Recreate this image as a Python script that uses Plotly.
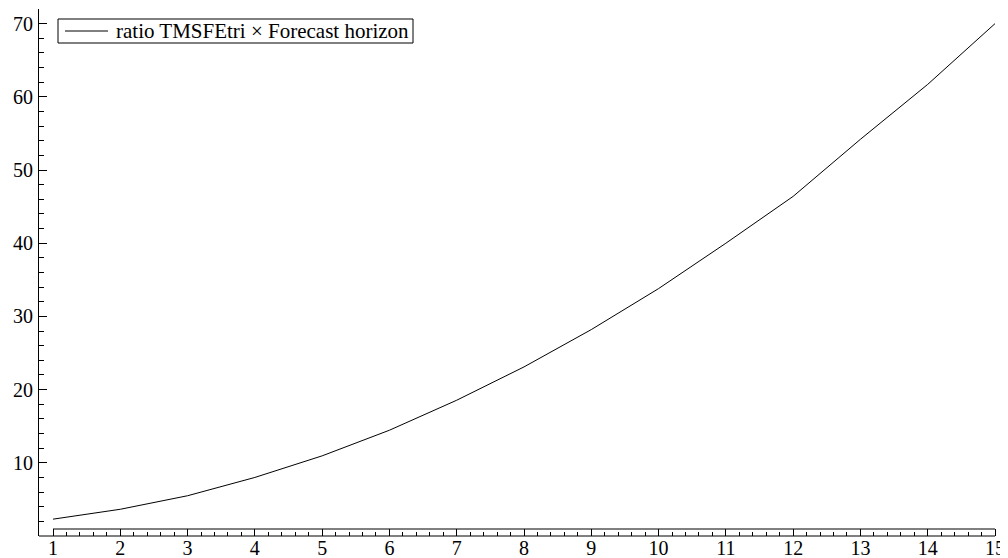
import plotly.graph_objects as go

horizon = list(range(1, 16))
ratio_x_h = [2.3, 3.65, 5.5, 8.0, 10.95, 14.45, 18.55, 23.1, 28.2, 33.8, 40.0, 46.4, 54.2, 61.7, 70.0]
y_tick_vals = [10, 20, 30, 40, 50, 60, 70]
x_tick_vals = list(range(1, 16))
series_name = "ratio TMSFEtri \u00d7 Forecast horizon"

FONT = "Liberation Serif, Times New Roman, serif"

fig = go.Figure()
fig.add_trace(go.Scatter(
    x=horizon, y=ratio_x_h, mode="lines", name=series_name,
    line=dict(color="black", width=1), showlegend=False,
))

# page has an 8px body margin; figure is offset by 8px
OFF = 8
W, H = 1008 - OFF, 558 - OFF
ml, mr, mt, mb = 39 - OFF, 0, 9 - OFF, 22
pw = W - ml - mr
ph = H - mt - mb
# x: 1 at page px 53, 15 at page px 995
ppu = (995 - 53) / 14.0
x0 = 1 - (53 - 39) / ppu
x1 = 15 + (1008 - 995) / ppu

def px_x(p):
    return (p - OFF - ml) / pw

def px_y(p):
    return 1 - (p - OFF - mt) / ph

fig.update_layout(
    width=W, height=H,
    margin=dict(l=ml, r=mr, t=mt, b=mb, pad=0, autoexpand=False),
    paper_bgcolor="white", plot_bgcolor="white",
    font=dict(family=FONT, size=20, color="black"),
    showlegend=False,
    xaxis=dict(
        range=[x0, x1], showgrid=False, zeroline=False, showline=False, automargin=False,
        tickmode="array", tickvals=x_tick_vals,
        ticks="inside", ticklen=7, tickwidth=1, tickcolor="black",
        minor=dict(dtick=0.2, tick0=0, ticks="inside", ticklen=4, tickwidth=1, tickcolor="black"),
        tickfont=dict(family=FONT, size=20, color="black"),
        ticklabelstandoff=-2,
    ),
    yaxis=dict(
        range=[0, 72], showgrid=False, zeroline=False, automargin=False,
        showline=True, linecolor="black", linewidth=1,
        tickmode="array", tickvals=y_tick_vals,
        ticks="inside", ticklen=8, tickwidth=1, tickcolor="black",
        minor=dict(dtick=2, tick0=0, ticks="inside", ticklen=5, tickwidth=1, tickcolor="black"),
        tickfont=dict(family=FONT, size=20, color="black"),
        ticklabelstandoff=1,
    ),
)

# bottom axis strip (OxMetrics style)
fig.add_shape(type="line", xref="paper", yref="paper", x0=0, x1=px_x(995), y0=0, y1=0,
              line=dict(color="black", width=1))
fig.add_shape(type="line", xref="x", yref="paper", ysizemode="pixel", yanchor=0,
              x0=1, x1=15, y0=7, y1=7, line=dict(color="black", width=1))

# legend box
fig.add_shape(type="rect", xref="paper", yref="paper",
              x0=px_x(58), x1=px_x(413), y0=px_y(43), y1=px_y(19),
              line=dict(color="black", width=1), fillcolor="white")
fig.add_shape(type="line", xref="paper", yref="paper",
              x0=px_x(65), x1=px_x(108), y0=px_y(31), y1=px_y(31),
              line=dict(color="black", width=1))
fig.add_annotation(xref="paper", yref="paper", x=px_x(114), y=px_y(31),
                   xanchor="left", yanchor="middle", showarrow=False,
                   text=series_name, font=dict(family=FONT, size=21, color="black"))

fig.write_html("out.html")
